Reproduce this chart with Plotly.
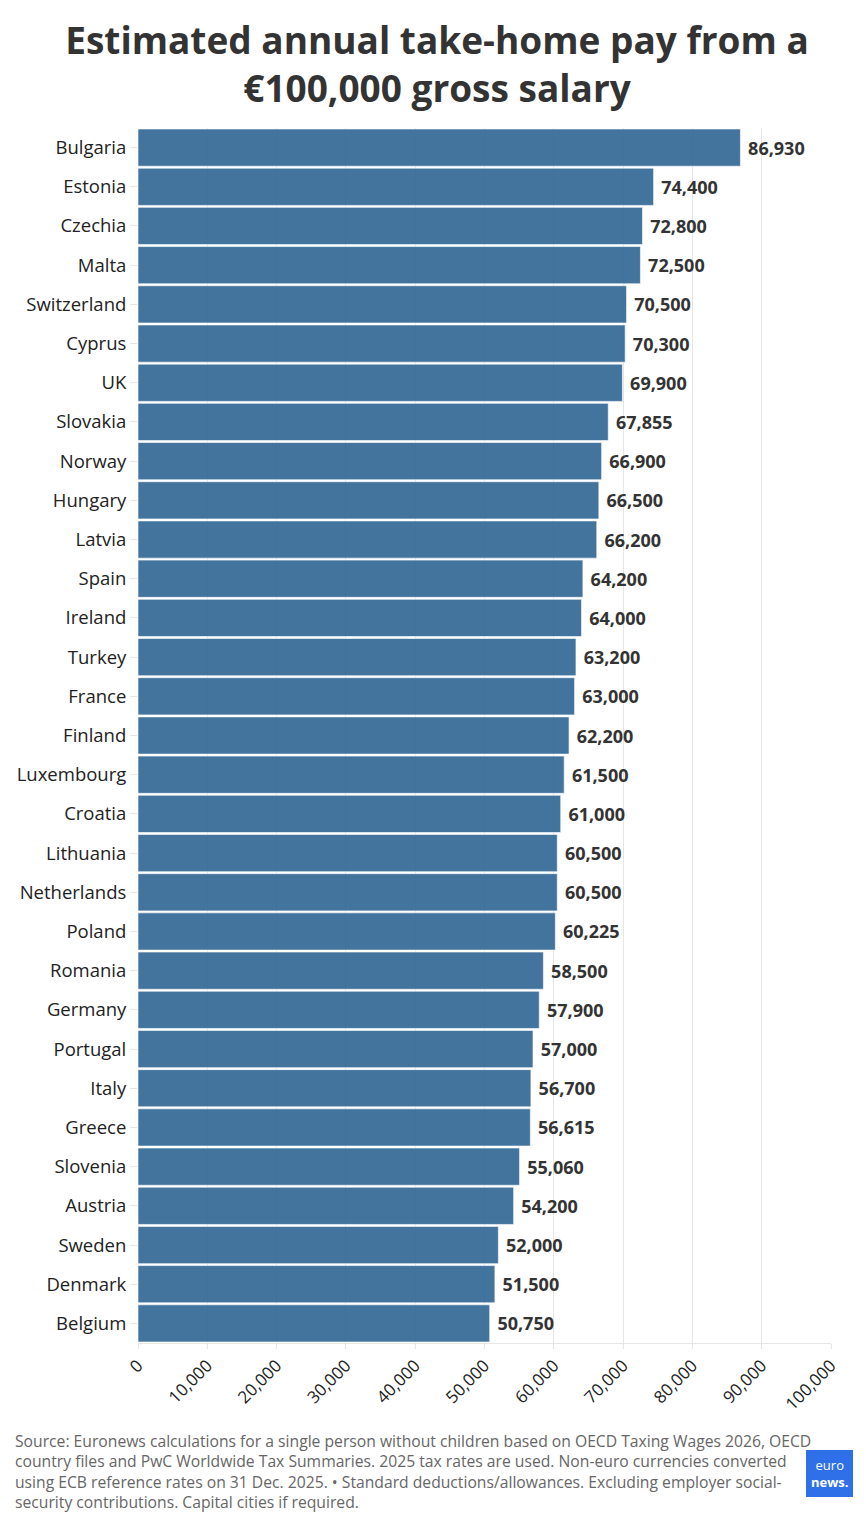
import plotly.graph_objects as go

countries = [
    "Bulgaria", "Estonia", "Czechia", "Malta", "Switzerland", "Cyprus", "UK",
    "Slovakia", "Norway", "Hungary", "Latvia", "Spain", "Ireland", "Turkey",
    "France", "Finland", "Luxembourg", "Croatia", "Lithuania", "Netherlands",
    "Poland", "Romania", "Germany", "Portugal", "Italy", "Greece", "Slovenia",
    "Austria", "Sweden", "Denmark", "Belgium",
]
take_home = [
    86930, 74400, 72800, 72500, 70500, 70300, 69900,
    67855, 66900, 66500, 66200, 64200, 64000, 63200,
    63000, 62200, 61500, 61000, 60500, 60500,
    60225, 58500, 57900, 57000, 56700, 56615, 55060,
    54200, 52000, 51500, 50750,
]
x_ticks = list(range(0, 100001, 10000))

source_text = (
    "Source: Euronews calculations for a single person without children based on OECD Taxing Wages 2026, OECD<br>"
    "country files and PwC Worldwide Tax Summaries. 2025 tax rates are used. Non-euro currencies converted<br>"
    "using ECB reference rates on 31 Dec. 2025. • Standard deductions/allowances. Excluding employer social-<br>"
    "security contributions. Capital cities if required."
)

W, H = 858, 1528
L, R, T, B = 130, 35, 120, 193
PW, PH = W - L - R, H - T - B


def px_x(x):
    return (x - L) / PW


def px_y(y):
    return 1 - (y - T) / PH


fig = go.Figure(
    go.Bar(
        x=take_home,
        y=countries,
        orientation="h",
        marker=dict(color="rgba(47,101,148,0.9)",
                    line=dict(color="rgba(255,255,255,0.6)", width=1)),
        text=[f" {v:,}" for v in take_home],
        textposition="outside",
        textfont=dict(family="Open Sans", size=18, color="#333333", weight="bold"),
        cliponaxis=False,
    )
)

fig.update_layout(
    width=W,
    height=H,
    paper_bgcolor="white",
    plot_bgcolor="white",
    margin=dict(l=L, r=R, t=T, b=B, autoexpand=False),
    bargap=0.05,
    showlegend=False,
    font=dict(family="Open Sans", color="#222222"),
    title=dict(
        text="<b>Estimated annual take-home pay from a<br>€100,000 gross salary</b>",
        x=0.5,
        xanchor="center",
        y=1 - 46 / H,
        yanchor="middle",
        font=dict(family="Open Sans", size=37, color="#333333"),
    ),
)

fig.update_xaxes(
    range=[0, 100000],
    tickvals=x_ticks,
    tickformat=",",
    tickangle=-45,
    tickfont=dict(size=17, color="#222222"),
    showgrid=True,
    gridcolor="#e6e6e6",
    zeroline=False,
    showline=True,
    linecolor="#e6e6e6",
    ticks="outside",
    tickcolor="#e6e6e6",
    ticklen=5,
    automargin=False,
)
fig.update_yaxes(
    autorange="reversed",
    tickfont=dict(size=18.5, color="#222222"),
    ticks="outside",
    tickcolor="#e6e6e6",
    ticklen=7,
    showgrid=False,
    automargin=False,
)

fig.add_annotation(
    text=source_text,
    xref="paper", yref="paper",
    x=px_x(5), y=px_y(1420),
    xanchor="left", yanchor="top",
    align="left",
    showarrow=False,
    font=dict(family="Open Sans", size=15.7, color="#666666"),
)

# euronews logo
fig.add_shape(
    type="rect",
    xref="paper", yref="paper",
    x0=px_x(798), x1=px_x(845),
    y0=px_y(1489), y1=px_y(1442),
    fillcolor="#2f6fe8",
    line=dict(width=0),
)
fig.add_annotation(
    text="euro<br><b>news.</b>",
    xref="paper", yref="paper",
    x=px_x(821.5), y=px_y(1465),
    xanchor="center", yanchor="middle",
    showarrow=False,
    font=dict(family="Open Sans", size=13, color="white"),
)

fig.write_html("out.html")
